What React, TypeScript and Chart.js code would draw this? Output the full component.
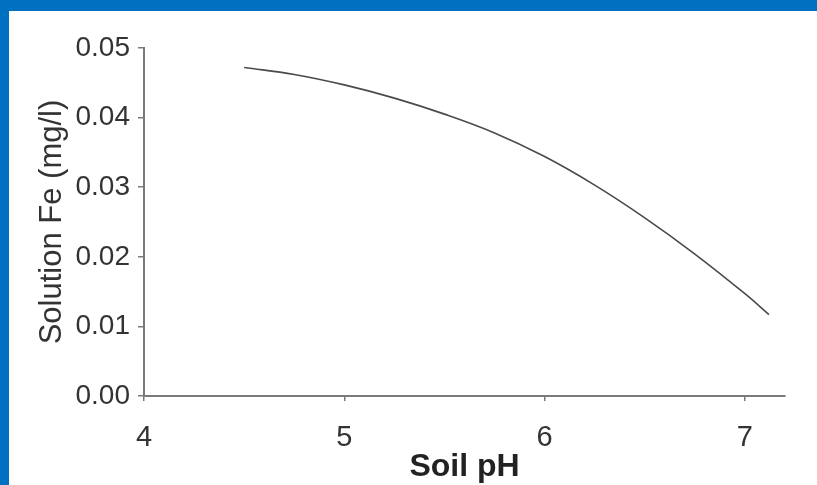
import React, { useEffect, useRef } from "react";
import { Chart, registerables } from "chart.js";

Chart.register(...registerables);

const phValues = [4.5, 4.75, 5, 5.25, 5.5, 5.75, 6, 6.25, 6.5, 6.75, 7, 7.12];
const feValues = [0.0472, 0.0462, 0.0447, 0.0428, 0.0405, 0.0378, 0.0344, 0.0303, 0.0256, 0.0204, 0.0147, 0.0117];
const xTitle = "Soil pH";
const yTitle = "Solution Fe (mg/l)";

export default function App() {
  const ref = useRef<HTMLCanvasElement | null>(null);
  useEffect(() => {
    if (!ref.current) return;
    const axisColor = "#7a7a7a";
    const chart = new Chart(ref.current, {
      type: "scatter",
      data: {
        datasets: [
          {
            data: phValues.map((x, i) => ({ x, y: feValues[i] })),
            showLine: true,
            borderColor: "#4a4a4a",
            borderWidth: 1.6,
            pointRadius: 0,
            tension: 0.4,
          } as any,
        ],
      },
      options: {
        animation: false,
        responsive: false,
        maintainAspectRatio: false,
        layout: { padding: { top: 37, right: 32, left: 0, bottom: 0 } },
        plugins: { legend: { display: false }, tooltip: { enabled: false } },
        scales: {
          x: {
            type: "linear",
            min: 4,
            max: 7.2,
            afterFit: (s: any) => { s.height = 89; },
            ticks: {
              stepSize: 1,
              includeBounds: false,
              color: "#333",
              font: { family: "'Liberation Sans', Arial, sans-serif", size: 29 },
              padding: 20,
              maxRotation: 0,
            },
            grid: { display: true, drawOnChartArea: false, drawTicks: true, tickLength: 5, color: axisColor, lineWidth: 1.5 },
            border: { display: true, color: axisColor, width: 2 },
            title: {
              display: true,
              text: xTitle,
              color: "#222",
              font: { family: "'Liberation Sans', Arial, sans-serif", size: 32, weight: "bold", lineHeight: 1 },
              padding: { top: 0, bottom: 2 },
            },
          },
          y: {
            type: "linear",
            min: 0,
            max: 0.05,
            afterFit: (s: any) => { s.width = 135; },
            ticks: {
              stepSize: 0.01,
              color: "#333",
              font: { family: "'Liberation Sans', Arial, sans-serif", size: 28 },
              padding: 8,
              callback: (v: any) => Number(v).toFixed(2),
            },
            grid: { display: true, drawOnChartArea: false, drawTicks: true, tickLength: 6, color: axisColor, lineWidth: 1.5 },
            border: { display: true, color: axisColor, width: 2 },
            title: {
              display: true,
              text: yTitle,
              color: "#333",
              font: { family: "'Liberation Sans', Arial, sans-serif", size: 31, lineHeight: 1.2 },
              padding: { top: 25, bottom: 0 },
            },
          },
        },
      },
    });
    return () => chart.destroy();
  }, []);
  return (
    <div
      style={{
        position: "fixed",
        left: 0,
        top: 0,
        width: 817,
        height: 485,
        boxSizing: "border-box",
        background: "#fff",
        borderTop: "11px solid #0070c0",
        borderLeft: "9px solid #0070c0",
      }}
    >
      <canvas ref={ref} width={808} height={474} style={{ display: "block", width: 808, height: 474 }} />
    </div>
  );
}
